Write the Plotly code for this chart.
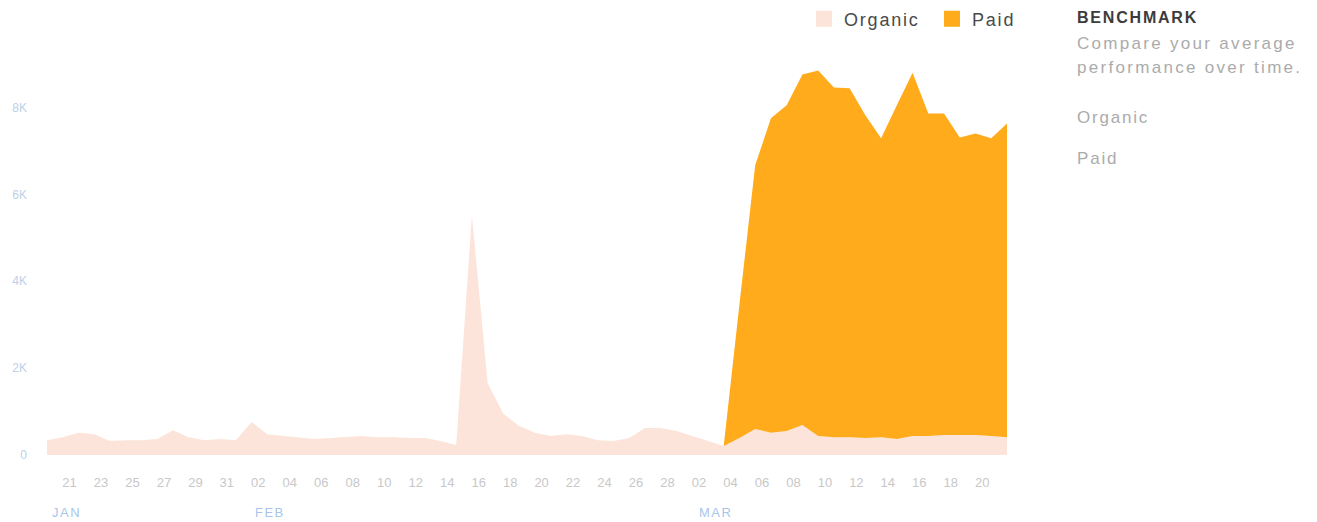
import plotly.graph_objects as go
import pandas as pd

# ---- data -------------------------------------------------------------
start_date = "2019-01-19"
end_date = "2019-03-21"
dates = pd.date_range(start_date, end_date, freq="D")

organic = [
    # Jan 19 - Jan 31
    340, 410, 510, 480, 320, 340, 340, 370, 570, 410, 340, 370, 340,
    # Feb 1 - Feb 28
    760, 480, 440, 410, 370, 390, 410, 440, 410, 410, 390, 390, 320, 230,
    5520, 1650, 950, 670, 510, 440, 480, 440, 340, 320, 390, 620, 620, 550,
    # Mar 1 - Mar 21
    440, 320, 210, 390, 600, 510, 550, 690, 440, 410, 410, 390, 410, 370,
    440, 440, 460, 460, 460, 440, 410,
]

paid = [
    # Jan 19 - Jan 31
    0, 0, 0, 0, 0, 0, 0, 0, 0, 0, 0, 0, 0,
    # Feb 1 - Feb 28
    0, 0, 0, 0, 0, 0, 0, 0, 0, 0, 0, 0, 0, 0,
    0, 0, 0, 0, 0, 0, 0, 0, 0, 0, 0, 0, 0, 0,
    # Mar 1 - Mar 21
    0, 0, 0, 3080, 6070, 7240, 7500, 8070, 8410, 8050, 8030, 7430, 6880, 7680,
    8360, 7420, 7400, 6850, 6940, 6850, 7220,
]

x_tick_dates = pd.date_range("2019-01-21", "2019-03-20", freq="2D")

y_tick_vals = [0, 2000, 4000, 6000, 8000]
y_tick_text = ["0", "2K", "4K", "6K", "8K"]

month_labels = ["JAN", "FEB", "MAR"]
month_label_dates = ["2019-01-20 05:00", "2019-02-02 04:00", "2019-03-02 12:00"]

series_names = ["Organic", "Paid"]
series_colors = ["#fde4da", "#ffab1c"]

panel_title = "BENCHMARK"
panel_lines = ["Compare your average", "performance over time."]
panel_items = ["Organic", "Paid"]

# ---- figure -----------------------------------------------------------
FONT = "Liberation Sans, Arial, sans-serif"


def spaced(text, px):
    return f"<span style='letter-spacing:{px}px'>{text}</span>"


fig = go.Figure()

for name, vals, col in zip(series_names, [organic, paid], series_colors):
    fig.add_trace(go.Scatter(
        x=dates, y=vals, name=name, mode="lines",
        stackgroup="one", line=dict(width=0, color=col),
        fillcolor=col, showlegend=False, hoverinfo="x+y+name",
    ))

# legend entries (square swatches)
for name, col in zip(series_names, series_colors):
    fig.add_trace(go.Scatter(
        x=[None], y=[None], mode="markers", name=spaced(name, 1.8),
        marker=dict(symbol="square", size=18, color=col),
        showlegend=True,
    ))

annotations = []
for lab, d in zip(month_labels, month_label_dates):
    annotations.append(dict(
        x=d, y=0, xref="x", yref="paper", text=spaced(lab, 1.5), showarrow=False,
        xanchor="center", yanchor="middle", yshift=-57,
        font=dict(family=FONT, size=13, color="#a9c5ec"),
    ))

px_x = lambda px: (px - 47) / 960.0
px_y = lambda py: (455 - py) / 391.0

annotations.append(dict(
    x=px_x(1075), y=px_y(17), xref="paper", yref="paper",
    text=f"<b>{spaced(panel_title, 1.8)}</b>", showarrow=False,
    xanchor="left", yanchor="middle",
    font=dict(family=FONT, size=16, color="#3c3c3c"),
))
for txt, py in zip(panel_lines, [43, 68]):
    annotations.append(dict(
        x=px_x(1075), y=px_y(py), xref="paper", yref="paper",
        text=spaced(txt, 2.3), showarrow=False,
        xanchor="left", yanchor="middle",
        font=dict(family=FONT, size=17, color="#ababab"),
    ))
for txt, py in zip(panel_items, [117, 158]):
    annotations.append(dict(
        x=px_x(1075), y=px_y(py), xref="paper", yref="paper",
        text=spaced(txt, 1.8), showarrow=False,
        xanchor="left", yanchor="middle",
        font=dict(family=FONT, size=17, color="#ababab"),
    ))

fig.update_layout(
    width=1317, height=522,
    margin=dict(l=47, r=310, t=64, b=67),
    paper_bgcolor="white", plot_bgcolor="white",
    font=dict(family=FONT),
    showlegend=True,
    legend=dict(
        orientation="h", xref="container", yref="container",
        x=(804) / 1317, y=1 - 19 / 522, xanchor="left", yanchor="middle",
        font=dict(family=FONT, size=18, color="#4a4a4a"),
        bgcolor="rgba(0,0,0,0)", itemclick=False,
        traceorder="normal", entrywidth=83,
    ),
    xaxis=dict(
        type="date", range=[start_date, end_date],
        tickvals=x_tick_dates, tickformat="%d",
        showgrid=False, zeroline=False, showline=False, ticks="",
        ticklabelstandoff=18, ticklabelshift=-9,
        tickfont=dict(family=FONT, size=13, color="#c8c8c8"),
    ),
    yaxis=dict(
        range=[0, 9000], tickvals=y_tick_vals, ticktext=y_tick_text,
        showgrid=False, zeroline=False, showline=False, ticks="",
        ticklabelstandoff=19,
        tickfont=dict(family=FONT, size=12, color="#bccfe8"),
    ),
    annotations=annotations,
)

fig.write_html("out.html")
